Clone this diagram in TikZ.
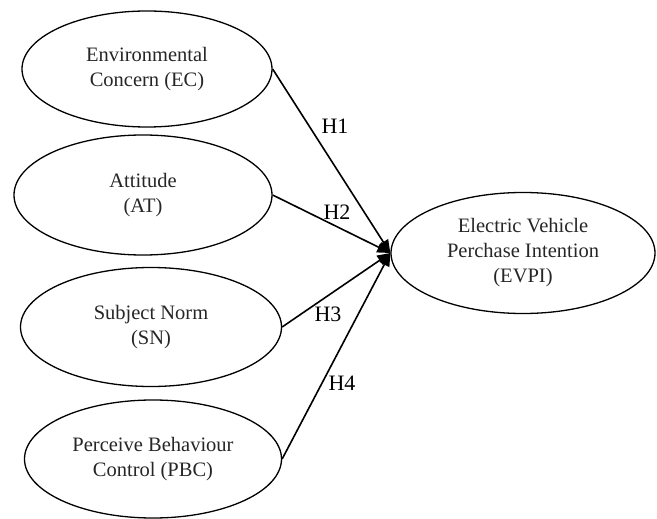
\documentclass[tikz,border=0pt]{standalone}
\usepackage{fontspec}
\setmainfont{Liberation Serif}
\usetikzlibrary{shapes.geometric,arrows.meta}
\begin{document}
\begin{tikzpicture}[x=1pt,y=-1pt,
  ell/.style={draw,line width=1.3pt,ellipse,inner sep=0pt,align=center,font=\fontsize{20.5}{25}\selectfont,text=black!85},
  conn/.style={line width=1.6pt,-{Triangle[length=13pt,width=11pt]}},
  hlab/.style={font=\fontsize{22}{24}\selectfont,inner sep=0pt}]
\useasboundingbox (0,0) rectangle (657,519);
\node[ell,minimum width=250pt,minimum height=116pt] (EC) at (147,69) {Environmental\\Concern (EC)};
\node[ell,minimum width=258pt,minimum height=120pt] (AT) at (143,195) {Attitude\\(AT)};
\node[ell,minimum width=261pt,minimum height=119pt] (SN) at (151,327) {Subject Norm\\(SN)};
\node[ell,minimum width=257pt,minimum height=118pt] (PBC) at (153,459) {Perceive Behaviour\\Control (PBC)};
\node[ell,minimum width=264pt,minimum height=121pt] (EVPI) at (523,253) {Electric Vehicle\\Perchase Intention\\(EVPI)};
\draw[conn] (EC.east) -- (EVPI.west);
\draw[conn] (AT.east) -- (EVPI.west);
\draw[conn] (SN.east) -- (EVPI.west);
\draw[conn] (PBC.east) -- (EVPI.west);
\node[hlab] (H1) at (335,126) {H1};
\node[hlab] (H2) at (337,212) {H2};
\node[hlab] (H3) at (328,314) {H3};
\node[hlab] (H4) at (342,383) {H4};
\end{tikzpicture}
\end{document}
